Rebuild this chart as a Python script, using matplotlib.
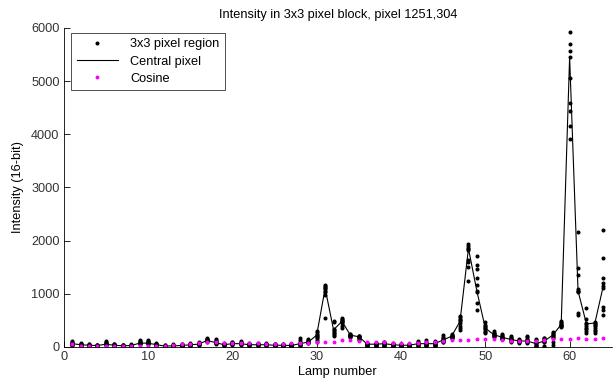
import matplotlib
matplotlib.use("Agg")
import matplotlib.pyplot as plt
import numpy as np

plt.rcParams['font.family'] = ['Liberation Sans', 'DejaVu Sans']

lamps = list(range(1, 65))

central = [60, 40, 30, 25, 50, 30, 20, 25, 70, 70,
           40, 15, 20, 25, 40, 50, 120, 80, 40, 60,
           60, 40, 40, 40, 30, 30, 25, 60, 90, 220,
           1100, 320, 480, 220, 190, 50, 50, 60, 40, 30,
           30, 60, 60, 60, 130, 200, 480, 1850, 1050, 350,
           230, 180, 140, 110, 110, 60, 110, 220, 420, 5450,
           1050, 430, 450, 1150]

region = [
    [110, 90, 70, 60, 50, 40, 35, 30, 80],
    [70, 50, 40, 35, 30, 25, 20, 45, 55],
    [50, 40, 35, 30, 25, 20, 20, 45, 30],
    [40, 30, 25, 20, 20, 15, 30, 35, 25],
    [110, 90, 70, 50, 40, 30, 60, 80, 45],
    [60, 50, 40, 30, 25, 20, 35, 45, 30],
    [40, 30, 25, 20, 15, 10, 20, 30, 35],
    [45, 35, 25, 20, 15, 10, 30, 25, 20],
    [130, 110, 90, 70, 60, 50, 80, 100, 65],
    [130, 110, 90, 70, 60, 50, 85, 100, 75],
    [80, 60, 50, 40, 30, 25, 45, 55, 35],
    [40, 30, 20, 15, 10, 5, 25, 20, 15],
    [45, 35, 25, 20, 15, 10, 30, 25, 20],
    [60, 45, 35, 25, 20, 15, 30, 40, 25],
    [70, 55, 45, 40, 30, 20, 50, 35, 40],
    [90, 70, 60, 50, 40, 30, 55, 65, 45],
    [160, 150, 140, 120, 110, 100, 130, 125, 115],
    [140, 120, 100, 80, 70, 60, 90, 110, 75],
    [70, 60, 50, 40, 30, 20, 45, 55, 35],
    [100, 85, 70, 60, 50, 40, 65, 75, 55],
    [110, 90, 75, 60, 50, 40, 70, 80, 55],
    [70, 60, 50, 40, 30, 25, 45, 55, 35],
    [70, 55, 45, 40, 30, 25, 50, 45, 35],
    [70, 60, 50, 40, 30, 20, 45, 55, 35],
    [60, 50, 40, 30, 25, 15, 35, 45, 30],
    [60, 45, 35, 30, 20, 10, 40, 25, 30],
    [55, 45, 35, 25, 20, 5, 30, 40, 25],
    [170, 120, 90, 60, 40, 10, 70, 50, 30],
    [140, 120, 110, 90, 80, 70, 100, 95, 85],
    [300, 280, 250, 220, 190, 160, 130, 100, 210],
    [1170, 1150, 1120, 1100, 1080, 1050, 1030, 980, 540],
    [480, 460, 330, 320, 290, 270, 260, 230, 200],
    [550, 530, 510, 490, 480, 460, 450, 400, 360],
    [250, 240, 220, 210, 200, 190, 180, 230, 215],
    [210, 200, 190, 180, 170, 150, 130, 195, 185],
    [80, 70, 60, 50, 40, 30, 20, 10, 0],
    [80, 70, 60, 50, 40, 30, 20, 10, 0],
    [100, 90, 70, 60, 50, 40, 30, 20, 10],
    [70, 60, 50, 40, 30, 20, 10, 5, 0],
    [60, 50, 40, 30, 20, 15, 10, 5, 0],
    [60, 50, 40, 30, 25, 20, 10, 5, 0],
    [110, 90, 70, 60, 50, 40, 30, 10, 0],
    [120, 100, 80, 60, 50, 40, 30, 20, 10],
    [110, 90, 75, 60, 50, 40, 30, 20, 10],
    [220, 190, 160, 140, 130, 120, 110, 100, 90],
    [240, 220, 200, 190, 180, 170, 160, 210, 205],
    [580, 560, 520, 500, 480, 450, 400, 350, 320],
    [1930, 1890, 1860, 1840, 1820, 1640, 1590, 1510, 1230],
    [1700, 1540, 1460, 1300, 1170, 1050, 1040, 820, 700],
    [460, 420, 390, 370, 350, 330, 300, 280, 260],
    [300, 270, 260, 240, 230, 220, 210, 200, 190],
    [240, 220, 200, 190, 180, 170, 160, 150, 140],
    [200, 180, 160, 150, 140, 130, 120, 110, 100],
    [150, 130, 120, 115, 110, 105, 100, 90, 80],
    [200, 190, 150, 130, 120, 110, 100, 90, 70],
    [140, 120, 100, 80, 60, 40, 20, 10, 0],
    [170, 160, 140, 120, 110, 100, 90, 10, 0],
    [280, 260, 240, 220, 200, 190, 160, 100, 40],
    [490, 470, 450, 430, 420, 410, 400, 390, 380],
    [5930, 5700, 5560, 5450, 5060, 4590, 4440, 4150, 3910],
    [2160, 1480, 1350, 1090, 1050, 1030, 640, 600, 1060],
    [730, 530, 450, 430, 400, 360, 330, 290, 260],
    [470, 450, 430, 410, 395, 360, 320, 290, 260],
    [2200, 1670, 1300, 1200, 1150, 1100, 750, 700, 600],
]

cosine = [50, 25, 25, 20, 15, 15, 15, 15, 15, 15,
          20, 25, 40, 55, 55, 65, 100, 90, 70, 70,
          65, 65, 65, 60, 60, 60, 65, 75, 80, 90,
          100, 100, 125, 120, 110, 100, 95, 90, 80, 75,
          75, 80, 85, 95, 110, 120, 125, 135, 140, 150,
          140, 125, 110, 110, 115, 115, 135, 145, 150, 150,
          160, 150, 150, 160]

title = "Intensity in 3x3 pixel block, pixel 1251,304"
xlabel = "Lamp number"
ylabel = "Intensity (16-bit)"
xticks = [0, 10, 20, 30, 40, 50, 60]
yticks = [0, 1000, 2000, 3000, 4000, 5000, 6000]

fs = 9.2
fig = plt.figure(figsize=(6.13, 3.82), dpi=100)
ax = fig.add_axes([0.104, 0.092, 0.894, 0.835])

rx = np.repeat(lamps, 9)
ry = np.array(region).ravel()
ax.plot(rx, ry, linestyle='none', marker='.', color='black', markersize=3.8,
        label='3x3 pixel region')
ax.plot(lamps, central, color='black', linewidth=0.8, label='Central pixel')
ax.plot(lamps, cosine, linestyle='none', marker='.', color=(1, 0, 1),
        markersize=3.6, label='Cosine')

ax.set_xlim(0, 65)
ax.set_ylim(0, 6000)
ax.set_xticks(xticks)
ax.set_yticks(yticks)
ax.tick_params(direction='in', length=4, width=0.6, labelsize=fs,
               colors='black', labelcolor='#333333', pad=3)
for s in ['top', 'right']:
    ax.spines[s].set_visible(False)
for s in ['left', 'bottom']:
    ax.spines[s].set_linewidth(0.6)

ax.set_title(title, fontsize=fs, pad=7)
ax.set_xlabel(xlabel, fontsize=fs, labelpad=2)
ax.set_ylabel(ylabel, fontsize=fs, labelpad=5)

leg = ax.legend(loc='upper left', fontsize=fs, frameon=True, fancybox=False,
                edgecolor='black', borderpad=0.45, handlelength=3.2,
                handletextpad=1.0, bbox_to_anchor=(0.013, 0.985),
                labelspacing=0.4, borderaxespad=0)
leg.get_frame().set_linewidth(0.6)

fig.savefig('out.png', dpi=100)
